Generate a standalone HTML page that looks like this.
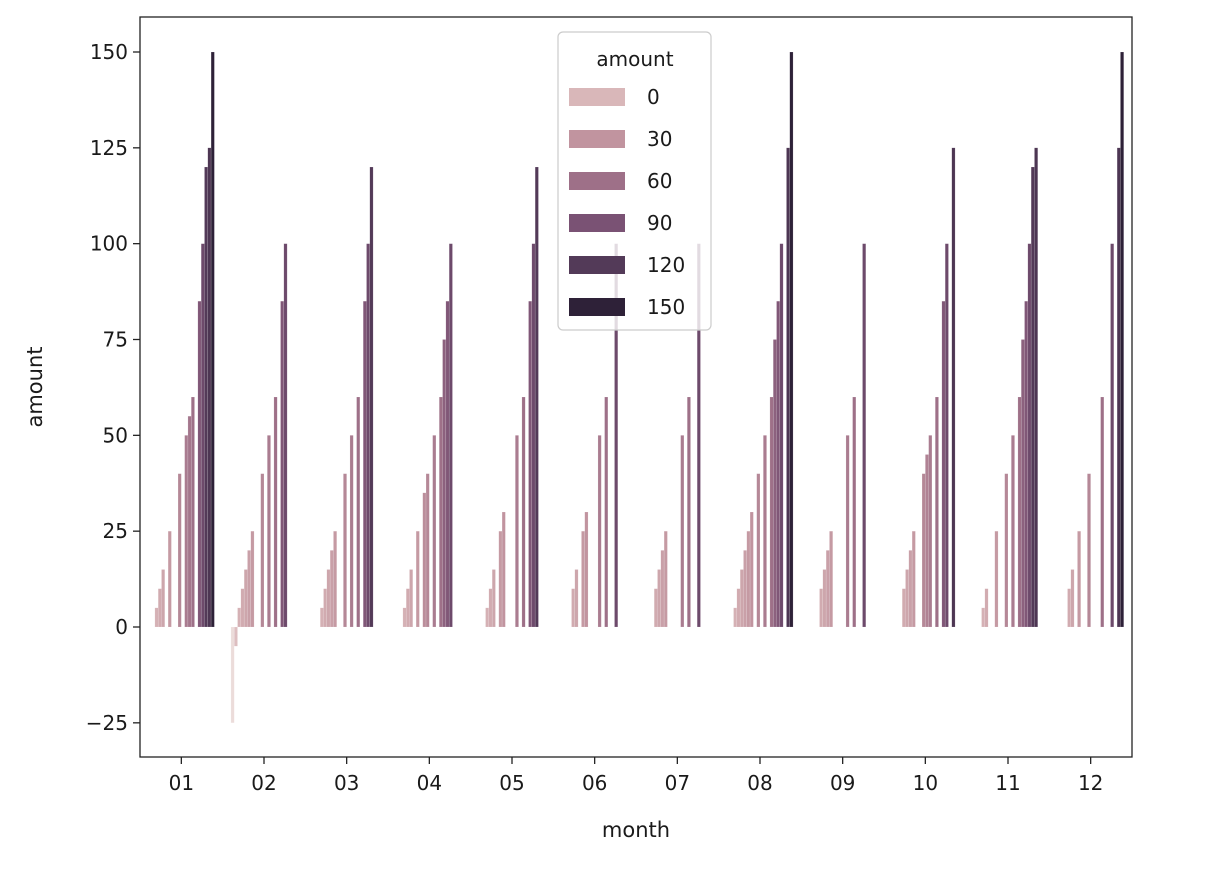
<!DOCTYPE html>
<html><head><meta charset="utf-8"><style>
body{margin:0;background:#fff;width:1224px;height:876px;overflow:hidden}
svg text{font-family:"DejaVu Sans","Liberation Sans",sans-serif;fill:#1a1a1a}
</style></head><body>
<svg id="chart" width="1224" height="876" xmlns="http://www.w3.org/2000/svg"></svg>
<script>
const months = ["01","02","03","04","05","06","07","08","09","10","11","12"];
const hueLevels = [-25,-5,5,10,15,20,25,30,35,40,45,50,55,60,75,85,100,120,125,150];
const m01 = [5,10,15,25,40,50,55,60,85,100,120,125,150];
const m02 = [-25,-5,5,10,15,20,25,40,50,60,85,100];
const m03 = [5,10,15,20,25,40,50,60,85,100,120];
const m04 = [5,10,15,25,35,40,50,60,75,85,100];
const m05 = [5,10,15,25,30,50,60,85,100,120];
const m06 = [10,15,25,30,50,60,100];
const m07 = [10,15,20,25,50,60,100];
const m08 = [5,10,15,20,25,30,40,50,60,75,85,100,125,150];
const m09 = [10,15,20,25,50,60,100];
const m10 = [10,15,20,25,40,45,50,60,85,100,125];
const m11 = [5,10,25,40,50,60,75,85,100,120,125];
const m12 = [10,15,25,40,60,100,125,150];
const monthValues = [m01,m02,m03,m04,m05,m06,m07,m08,m09,m10,m11,m12];
const yTicks = [-25,0,25,50,75,100,125,150];
const legendLabels = [0,30,60,90,120,150];

const svg = document.getElementById('chart');
const NS = 'http://www.w3.org/2000/svg';
const L=140,R=1132,T=17,B=757;
const Y0=627, PPU=575/150;
const y = v => Y0 - v*PPU;
const band = (R-L)/months.length;
const x = i => L + band*(i+0.5);
const stops = [[-25,[236,220,218]],[0,[217,183,185]],[30,[193,148,159]],[60,[158,112,136]],[90,[122,82,116]],[120,[83,58,88]],[150,[46,33,56]]];
function color(v){
  for(let k=0;k<stops.length-1;k++){
    const [a,ca]=stops[k],[b,cb]=stops[k+1];
    if(v<=b||k==stops.length-2){const t=Math.max(0,Math.min(1,(v-a)/(b-a)));
      return 'rgb('+ca.map((c,j)=>Math.round(c+(cb[j]-c)*t)).join(',')+')';}
  }
}
function el(tag,attrs,parent){const e=document.createElementNS(NS,tag);for(const k in attrs)e.setAttribute(k,attrs[k]);(parent||svg).appendChild(e);return e;}

// bars
const gw = band*0.8, bw = gw/hueLevels.length;
monthValues.forEach((vals,i)=>{
  vals.forEach(v=>{
    const li = hueLevels.indexOf(v);
    const bx = x(i)-gw/2+li*bw;
    const top = Math.min(y(v),y(0)), h = Math.abs(y(v)-y(0));
    const r = el('rect',{x:bx,y:top,width:bw,height:h,fill:color(v),stroke:'rgba(255,255,255,0.35)','stroke-width':0.4});
    
    
  });
});

// axes frame
const frame = el('rect',{x:L,y:T,width:R-L,height:B-T,fill:'none',stroke:'#222','stroke-width':1.3});



// y ticks
yTicks.forEach(v=>{
  const t=el('line',{x1:L-7,x2:L,y1:y(v),y2:y(v),stroke:'#222','stroke-width':1.3});
  
  
  const lb=el('text',{x:L-12,y:y(v)+7,'text-anchor':'end','font-size':20});
  lb.textContent = (v<0?'\u2212'+Math.abs(v):v);
  
  
});
// x ticks
months.forEach((m,i)=>{
  const t=el('line',{x1:x(i),x2:x(i),y1:B,y2:B+7,stroke:'#222','stroke-width':1.3});
  
  
  const lb=el('text',{x:x(i),y:B+33,'text-anchor':'middle','font-size':20});
  lb.textContent=m;
  
  
});
const xt=el('text',{x:(L+R)/2,y:837,'text-anchor':'middle','font-size':21});
xt.textContent='month';


const yt=el('text',{x:42,y:(T+B)/2,'text-anchor':'middle','font-size':21,transform:'rotate(-90 42 '+((T+B)/2)+')'});
yt.textContent='amount';



// legend
const lg=el('g',{});


el('rect',{x:558,y:32,width:153,height:298,rx:5,fill:'rgba(255,255,255,0.8)',stroke:'#ccc','stroke-width':1.2},lg);
const lt=el('text',{x:635,y:66,'text-anchor':'middle','font-size':20},lg);
lt.textContent='amount';


legendLabels.forEach((v,k)=>{
  const cy=97+k*42;
  const p=el('rect',{x:569,y:cy-9,width:56,height:18,fill:color(v)},lg);
  
  
  const tx=el('text',{x:647,y:cy+7,'font-size':20},lg);
  tx.textContent=v;
  
  
});
</script>
</body></html>
